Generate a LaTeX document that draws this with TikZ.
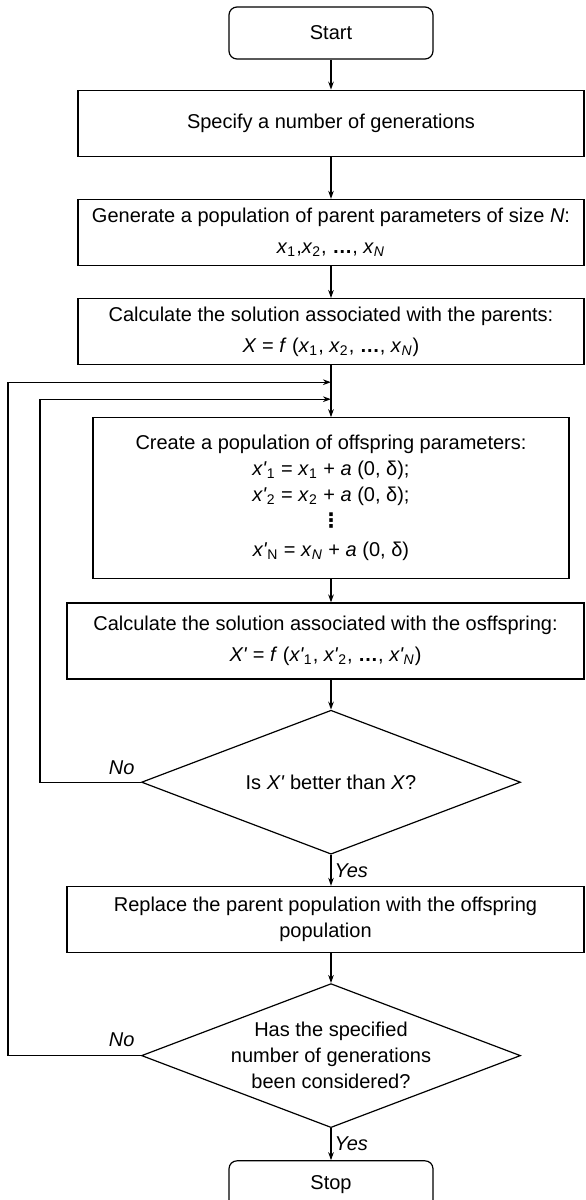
\documentclass[tikz,border=0pt]{standalone}
\usepackage{fontspec}
\setmainfont{Liberation Sans}
\newfontfamily\dotsfont{DejaVu Sans}
\usetikzlibrary{positioning,arrows.meta,calc,shapes.geometric}
\newcommand{\prm}{\textquotesingle}
\tikzset{
  flow/.style={-{Stealth[length=4pt,width=2.8pt]},line width=0.6pt,draw=black},
  box/.style={draw=black,line width=0.6pt,fill=white,align=center,
    minimum height=33pt,inner sep=2pt,font=\fontsize{10}{13}\selectfont},
  termbox/.style={box,rounded corners=4pt,minimum width=102pt,minimum height=26pt},
  decbox/.style={diamond,draw=black,line width=0.6pt,fill=white,aspect=2.63,
    minimum width=189.5pt,minimum height=72pt,inner sep=0pt,align=center,
    font=\fontsize{10}{13}\selectfont},
  lbl/.style={inner sep=1.5pt,font=\fontsize{10}{12}\selectfont\itshape}
}

\begin{document}
\begin{tikzpicture}[node distance=15pt]
  \useasboundingbox (0,0) rectangle (292.5pt,-600pt);
  \node[termbox] (start) at (165.5pt,-16.5pt) {Start};
  \node[box,below=15pt of start,minimum width=253pt] (spec) {Specify a number of generations};
  \node[box,below=21pt of spec,minimum width=253pt] (gen) {
    Generate a population of parent parameters of size \textit{N}:\\[2.5pt]
    \textit{x}\textsubscript{1},\textit{x}\textsubscript{2}, \textbf{…}, \textit{x}\textsubscript{\textit{N}}
  };
  \node[box,below=16pt of gen,minimum width=253pt] (calcpar) {
    Calculate the solution associated with the parents:\\[2.5pt]
    \textit{X} = \textit{f} (\textit{x}\textsubscript{1}, \textit{x}\textsubscript{2}, \textbf{…}, \textit{x}\textsubscript{\textit{N}})
  };
  \node[box,below=26pt of calcpar,minimum width=238pt,minimum height=80.5pt] (create) {
    Create a population of offspring parameters:\\
    \textit{x\prm}\textsubscript{1} = \textit{x}\textsubscript{1} + \textit{a} (0, δ);\\
    \textit{x\prm}\textsubscript{2} = \textit{x}\textsubscript{2} + \textit{a} (0, δ);\\
    {\dotsfont\bfseries ⋮}\\[1.5pt]
    \textit{x\prm}\textsubscript{N} = \textit{x}\textsubscript{\textit{N}} + \textit{a} (0, δ)
  };
  \node[box,below=11.5pt of create,xshift=-2.75pt,minimum width=258.5pt,minimum height=38pt] (calcoff) {
    Calculate the solution associated with the osffspring:\\[2.5pt]
    \textit{X\prm} = \textit{f} (\textit{x\prm}\textsubscript{1}, \textit{x\prm}\textsubscript{2}, \textbf{…}, \textit{x\prm}\textsubscript{\textit{N}})
  };
  \node[decbox,below=15pt of calcoff,xshift=2.75pt] (dec1) {Is \textit{X\prm} better than \textit{X}?};
  \node[box,below=15.5pt of dec1,xshift=-2.75pt,minimum width=258.5pt] (repl) {
    Replace the parent population with the offspring\\ population
  };
  \node[decbox,below=15pt of repl,xshift=2.75pt] (dec2) {Has the specified\\ number of generations\\ been considered?};
  \node[termbox,below=16pt of dec2,minimum height=24pt] (stop) {Stop};
  % main column
  \coordinate (joinout) at ($(calcpar.south)+(0,-8.5pt)$);
  \coordinate (joinin) at ($(calcpar.south)+(0,-17pt)$);
  \coordinate (outerx) at (4pt,0);
  \coordinate (innerx) at (20pt,0);
  \draw[flow] (start) -- (spec);
  \draw[flow] (spec) -- (gen);
  \draw[flow] (gen) -- (calcpar);
  \draw[flow] (calcpar) -- (create);
  \draw[flow] (create.south) -- (create.south |- calcoff.north);
  \draw[flow] (create.south |- calcoff.south) -- (dec1.north);
  \draw[flow] (dec1.south) -- node[lbl,right]{Yes} (dec1.south |- repl.north);
  \draw[flow] (dec1.south |- repl.south) -- (dec2.north);
  \draw[flow] (dec2.south) -- node[lbl,right]{Yes} (stop.north);
  % loops back
  \draw[flow] (dec1.west) -- (dec1.west -| innerx) |- (joinin);
  \draw[flow] (dec2.west) -- (dec2.west -| outerx) |- (joinout);
  \node[lbl,anchor=south east] at ([xshift=-1.5pt,yshift=2pt]dec1.west) {No};
  \node[lbl,anchor=south east] at ([xshift=-1.5pt,yshift=3pt]dec2.west) {No};
\end{tikzpicture}
\end{document}
